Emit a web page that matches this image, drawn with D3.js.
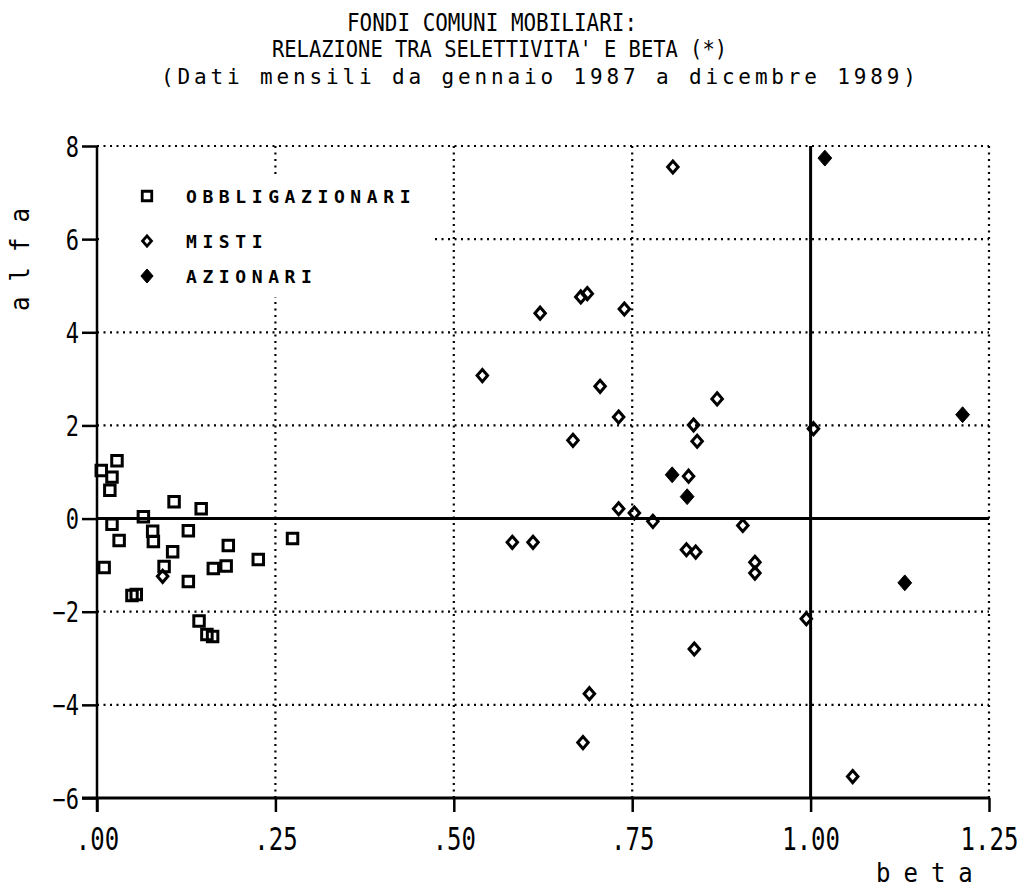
<!DOCTYPE html>
<html>
<head>
<meta charset="utf-8">
<script src="https://cdn.jsdelivr.net/npm/d3@7.9.0/dist/d3.min.js"></script>
<style>
  html, body { margin: 0; padding: 0; background: #fff; }
  svg { display: block; }
  text { font-family: "DejaVu Sans Mono", "Liberation Mono", monospace; fill: #000; }
</style>
</head>
<body>
<svg id="chart" width="1026" height="889"></svg>
<script>
// tick values and labels
const xTicks = [0, 0.25, 0.5, 0.75, 1, 1.25];
const xTickLabels = [".00", ".25", ".50", ".75", "1.00", "1.25"];
const yTicks = [8, 6, 4, 2, 0, -2, -4, -6];
const yTickLabels = ["8", "6", "4", "2", "0", "−2", "−4", "−6"];

// OBBLIGAZIONARI (squares)
const obbBeta = [.028, .006, .021, .018, .108, .146, .065, .021, .031, .078, .079, .128, .106,
  .184, .274, .010, .094, .163, .181, .226, .128, .049, .055, .143, .154, .162];
const obbAlfa = [1.24, 1.03, .89, .61, .36, .21, .04, -.12, -.47, -.27, -.49, -.26, -.71,
  -.58, -.43, -1.05, -1.03, -1.07, -1.02, -.88, -1.35, -1.65, -1.63, -2.20, -2.49, -2.53];

// MISTI (open diamonds)
const misBeta = [.807, .621, .678, .687, .739, .540, .705, .731, .667, .869, .836, .841, .829,
  .731, .753, .779, .905, .582, .611, .826, .839, .922, .922, 1.004, .994, .837, .690, .681, 1.059, .092];
const misAlfa = [7.55, 4.41, 4.76, 4.83, 4.50, 3.07, 2.84, 2.18, 1.68, 2.57, 2.01, 1.66, .91,
  .21, .12, -.06, -.15, -.51, -.51, -.67, -.72, -.94, -1.17, 1.93, -2.15, -2.80, -3.76, -4.81, -5.54, -1.24];

// AZIONARI (filled diamonds)
const aziBeta = [.806, .827, 1.020, 1.213, 1.132];
const aziAlfa = [.94, .47, 7.74, 2.23, -1.38];

const legendLabels = ["OBBLIGAZIONARI", "MISTI", "AZIONARI"];
const titleLines = [
  "FONDI COMUNI MOBILIARI:",
  "RELAZIONE TRA SELETTIVITA' E BETA (*)",
  "(Dati mensili da gennaio 1987 a dicembre 1989)"
];

const svg = d3.select("#chart");

const x = d3.scaleLinear().domain([0, 1.25]).range([97, 989]);
const y = d3.scaleLinear().domain([-6, 8]).range([798, 146]);

// diamond symbol, a bit taller than wide
const diamond = {
  draw(ctx, size) {
    const r = Math.sqrt(size) / 2;
    ctx.moveTo(0, -r * 1.15);
    ctx.lineTo(r, 0);
    ctx.lineTo(0, r * 1.15);
    ctx.lineTo(-r, 0);
    ctx.closePath();
  }
};

function txt(sel, s, px, py, o) {
  const t = sel.append("text")
    .attr("transform", `translate(${px},${py})` + (o.rot ? ` rotate(${o.rot})` : "") + ` scale(1,${o.sy || 1})`)
    .attr("font-size", o.size)
    .attr("text-anchor", o.anchor || "start")
    .text(s);
  if (o.len) t.attr("textLength", o.len).attr("lengthAdjust", o.adj || "spacingAndGlyphs");
  if (o.ls) t.attr("letter-spacing", o.ls);
  if (o.bold) t.attr("font-weight", "bold");
  return t;
}

// title
txt(svg, titleLines[0], 347, 31, { size: 20, sy: 1.2, len: 290 });
txt(svg, titleLines[1], 272, 57, { size: 20, sy: 1.15, len: 455 });
txt(svg, titleLines[2], 161, 84, { size: 21, sy: 1.05, len: 755, adj: "spacing" });

// dotted grid
const grid = svg.append("g").attr("stroke", "#000").attr("stroke-width", 2.2)
  .attr("stroke-dasharray", "2,4.5");
grid.selectAll("line.h").data(yTicks.filter(d => d !== 0 && d !== -6)).join("line")
  .attr("x1", x(0)).attr("x2", x(1.25))
  .attr("y1", d => y(d)).attr("y2", d => y(d));
grid.selectAll("line.v").data(xTicks.filter(d => d !== 0 && d !== 1)).join("line")
  .attr("x1", d => x(d)).attr("x2", d => x(d))
  .attr("y1", y(8)).attr("y2", y(-6));

// legend background hides the grid behind it
svg.append("rect").attr("x", 99).attr("y", 174).attr("width", 333).attr("height", 123)
  .attr("fill", "#fff");

// solid reference lines
const solid = svg.append("g").attr("stroke", "#000");
solid.append("line").attr("x1", x(0)).attr("x2", x(1.25)).attr("y1", y(0)).attr("y2", y(0))
  .attr("stroke-width", 3);
solid.append("line").attr("x1", x(1)).attr("x2", x(1)).attr("y1", y(8)).attr("y2", y(-6))
  .attr("stroke-width", 3);

// axes
const xAxis = svg.append("g").attr("transform", `translate(0,${y(-6)})`)
  .call(d3.axisBottom(x).tickValues(xTicks).tickSize(14).tickPadding(0)
    .tickFormat((d, i) => xTickLabels[i]));
const yAxis = svg.append("g").attr("transform", `translate(${x(0)},0)`)
  .call(d3.axisLeft(y).tickValues(yTicks).tickSize(15).tickPadding(0)
    .tickFormat((d, i) => yTickLabels[i]));

[xAxis, yAxis].forEach(a => {
  a.select(".domain").remove();
  a.selectAll(".tick line").attr("stroke", "#000").attr("stroke-width", 2.5);
});
xAxis.selectAll(".tick text")
  .attr("font-family", null).attr("font-size", 24)
  .attr("y", 52 / 1.3).attr("dy", 0)
  .attr("transform", "scale(1,1.3)");
yAxis.selectAll(".tick text")
  .attr("font-family", null).attr("font-size", 22)
  .attr("x", -18).attr("y", 10 / 1.25).attr("dy", 0)
  .attr("transform", "scale(1,1.25)");

// axis lines
solid.append("line").attr("x1", x(0)).attr("x2", x(0)).attr("y1", y(8)).attr("y2", y(-6) + 14)
  .attr("stroke-width", 2.5);
solid.append("line").attr("x1", x(0) - 15).attr("x2", x(1.25)).attr("y1", y(-6)).attr("y2", y(-6))
  .attr("stroke-width", 3);

// axis titles
txt(svg, "alfa", 29, 252, { size: 24, rot: -90, sy: 1.1, anchor: "middle", ls: 15 });
txt(svg, "beta", 876, 882, { size: 24, sy: 1.1, ls: 13 });

// points
const pts = svg.append("g");
pts.selectAll("path.obb").data(d3.zip(obbBeta, obbAlfa)).join("path")
  .attr("transform", d => `translate(${x(d[0])},${y(d[1])})`)
  .attr("d", d3.symbol(d3.symbolSquare, 110))
  .attr("fill", "none").attr("stroke", "#000").attr("stroke-width", 3);
pts.selectAll("path.mis").data(d3.zip(misBeta, misAlfa)).join("path")
  .attr("transform", d => `translate(${x(d[0])},${y(d[1])})`)
  .attr("d", d3.symbol(diamond, 110))
  .attr("fill", "none").attr("stroke", "#000").attr("stroke-width", 3);
pts.selectAll("path.azi").data(d3.zip(aziBeta, aziAlfa)).join("path")
  .attr("transform", d => `translate(${x(d[0])},${y(d[1])})`)
  .attr("d", d3.symbol(diamond, 190))
  .attr("fill", "#000").attr("stroke", "#000").attr("stroke-width", 1);

// legend
const legY = [196, 241, 276];
const leg = svg.append("g");
leg.append("path").attr("transform", `translate(147,${legY[0]})`)
  .attr("d", d3.symbol(d3.symbolSquare, 90))
  .attr("fill", "none").attr("stroke", "#000").attr("stroke-width", 2.8);
leg.append("path").attr("transform", `translate(147,${legY[1]})`)
  .attr("d", d3.symbol(diamond, 80))
  .attr("fill", "none").attr("stroke", "#000").attr("stroke-width", 2.8);
leg.append("path").attr("transform", `translate(147,${legY[2]})`)
  .attr("d", d3.symbol(diamond, 150))
  .attr("fill", "#000").attr("stroke", "#000").attr("stroke-width", 1);
legendLabels.forEach((s, i) => txt(leg, s, 186, legY[i] + 6.5, { size: 18, ls: 5.6, bold: true }));
</script>
</body>
</html>
